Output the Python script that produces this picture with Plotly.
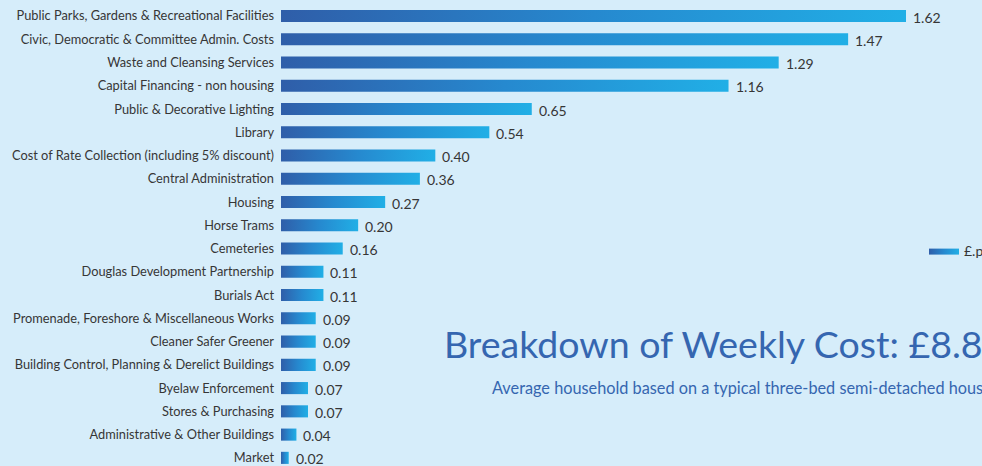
import plotly.graph_objects as go

categories = [
    "Public Parks, Gardens & Recreational Facilities",
    "Civic, Democratic & Committee Admin. Costs",
    "Waste and Cleansing Services",
    "Capital Financing - non housing",
    "Public & Decorative Lighting",
    "Library",
    "Cost of Rate Collection (including 5% discount)",
    "Central Administration",
    "Housing",
    "Horse Trams",
    "Cemeteries",
    "Douglas Development Partnership",
    "Burials Act",
    "Promenade, Foreshore & Miscellaneous Works",
    "Cleaner Safer Greener",
    "Building Control, Planning & Derelict Buildings",
    "Byelaw Enforcement",
    "Stores & Purchasing",
    "Administrative & Other Buildings",
    "Market",
]
values = [1.62, 1.47, 1.29, 1.16, 0.65, 0.54, 0.40, 0.36, 0.27, 0.20,
          0.16, 0.11, 0.11, 0.09, 0.09, 0.09, 0.07, 0.07, 0.04, 0.02]
value_labels = ["%.2f" % v for v in values]
series_name = "£.p"
title_text = "Breakdown of Weekly Cost: £8.81"
subtitle_text = "Average household based on a typical three-bed semi-detached house"

FONT = "Lato, sans-serif"
BG = "#d6edfa"
TXT = "#363636"
BLUE = "#3566b0"
GRAD = [[0, "#2f5ea9"], [0.5, "#2689cf"], [1, "#21afe6"]]
HALF = 0.26

fig = go.Figure()
for i, (cat, v) in enumerate(zip(categories, values)):
    fig.add_trace(go.Scatter(
        x=[0, v, v, 0, 0],
        y=[i - HALF, i - HALF, i + HALF, i + HALF, i - HALF],
        mode="lines",
        fill="toself",
        fillgradient=dict(type="horizontal", colorscale=GRAD),
        line=dict(width=0, color="rgba(0,0,0,0)"),
        name=series_name,
        legendgroup="g",
        showlegend=(i == 0),
        hoverinfo="skip",
    ))

for i, (v, lab) in enumerate(zip(values, value_labels)):
    fig.add_annotation(x=v, y=i, text=lab, showarrow=False, xanchor="left",
                       yanchor="middle", xshift=5, yshift=-1,
                       font=dict(family=FONT, size=14, color=TXT))

fig.add_annotation(xref="paper", yref="paper", x=(490 - 281) / 701, y=1 - 387 / 466,
                   text=subtitle_text, showarrow=False, xanchor="left", yanchor="middle",
                   font=dict(family=FONT, size=16.3, color=BLUE))

fig.update_layout(
    width=982, height=466,
    margin=dict(l=281, r=0, t=0, b=0, autoexpand=False),
    paper_bgcolor=BG, plot_bgcolor=BG,
    font=dict(family=FONT, color=TXT),
    title=dict(text=title_text, xref="paper", x=(444 - 281) / 701, xanchor="left",
               yref="paper", y=1 - 345 / 466, yanchor="middle",
               font=dict(family=FONT, size=37.5, color=BLUE)),
    showlegend=True,
    legend=dict(x=(924 - 281) / 701, y=1 - 251 / 466, xanchor="left", yanchor="middle",
                bgcolor="rgba(0,0,0,0)", font=dict(family=FONT, size=14, color=TXT),
                itemwidth=30),
    xaxis=dict(range=[0, 1.817], showgrid=False, zeroline=False, showticklabels=False,
               showline=False, fixedrange=True),
    yaxis=dict(range=[19.35, -0.688], tickmode="array", tickvals=list(range(len(categories))),
               ticktext=categories, showgrid=False, zeroline=False, showline=False,
               ticks="", ticklabelstandoff=6, fixedrange=True,
               tickfont=dict(family=FONT, size=12.8, color=TXT)),
)

fig.write_html("out.html", config={"displayModeBar": False},
               post_script="document.body.style.margin='0';document.body.style.background='%s';" % BG)
